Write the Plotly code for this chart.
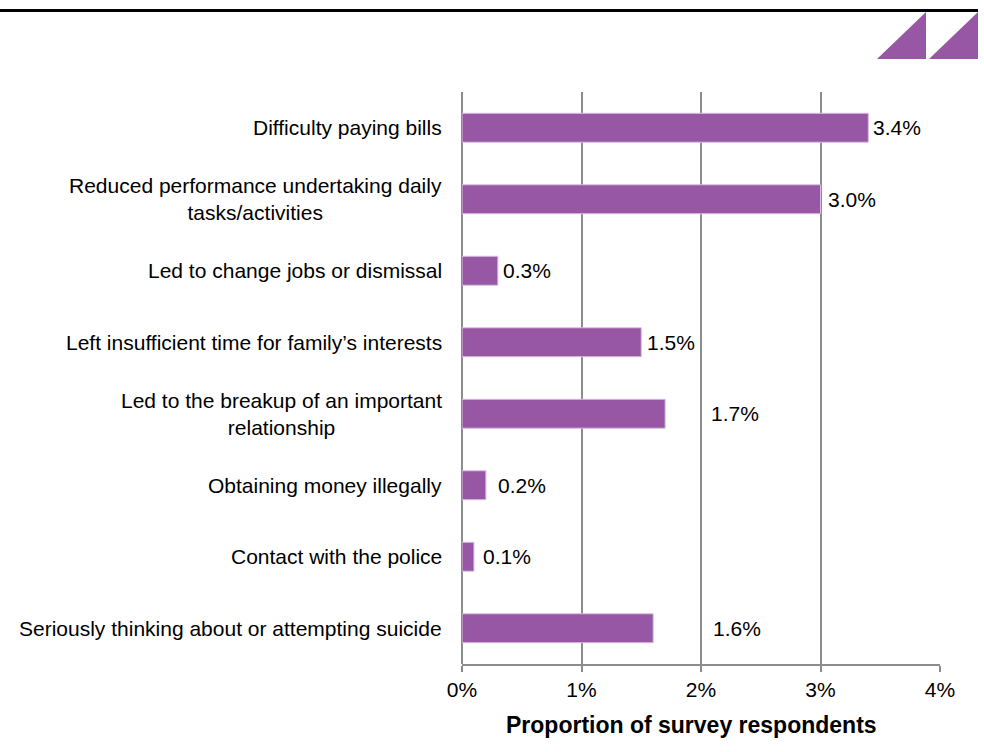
import plotly.graph_objects as go

# Harms reported by survey respondents (share of all respondents, %)
categories = [
    "Difficulty paying bills",
    "Reduced performance undertaking daily<br>tasks/activities",
    "Led to change jobs or dismissal",
    "Left insufficient time for family\u2019s interests",
    "Led to the breakup of an important<br>relationship",
    "Obtaining money illegally",
    "Contact with the police",
    "Seriously thinking about or attempting suicide",
]
values = [3.4, 3.0, 0.3, 1.5, 1.7, 0.2, 0.1, 1.6]
value_labels = ["3.4%", "3.0%", "0.3%", "1.5%", "1.7%", "0.2%", "0.1%", "1.6%"]
# horizontal nudge (px) of each value label from the end of its bar
label_shift = [3, 5, 3, 4, 44, 10, 7, 58]

x_ticks = [0, 1, 2, 3, 4]
x_tick_text = ["0%", "1%", "2%", "3%", "4%"]

PURPLE = "#9757a4"
GRID = "#8c8c8c"
FONT = "Liberation Sans, Arial, sans-serif"

fig = go.Figure(
    go.Bar(
        x=values,
        y=categories,
        orientation="h",
        marker=dict(color=PURPLE, line=dict(color="#d9bfe0", width=1)),
        hoverinfo="skip",
    )
)

annotations = []
# category labels, centred line by line and right-aligned to the axis
for cat in categories:
    annotations.append(dict(
        x=0, xref="paper", y=cat, yref="y",
        text=cat, showarrow=False, xanchor="right", yanchor="middle",
        align="center", xshift=-18,
        font=dict(family=FONT, size=21, color="#000000"),
    ))
# value labels
for cat, v, t, s in zip(categories, values, value_labels, label_shift):
    annotations.append(dict(
        x=v, xref="x", y=cat, yref="y",
        text=t, showarrow=False, xanchor="left", yanchor="middle",
        xshift=s, font=dict(family=FONT, size=21, color="#000000"),
    ))
# axis title
annotations.append(dict(
    x=0.48, xref="paper", y=725, yref="paper",
    text="<b>Proportion of survey respondents</b>", showarrow=False,
    xanchor="center", yanchor="middle",
    font=dict(family=FONT, size=23, color="#000000"),
))

fig.update_layout(
    width=984, height=752,
    margin=dict(l=462, r=44, t=92, b=88),
    paper_bgcolor="white", plot_bgcolor="white",
    showlegend=False,
    bargap=0.595,
    font=dict(family=FONT, size=21, color="#000000"),
    xaxis=dict(
        range=[0, 4], tickvals=x_ticks, ticktext=x_tick_text,
        showgrid=True, gridcolor=GRID, gridwidth=1.5,
        zeroline=True, zerolinecolor=GRID, zerolinewidth=1.5,
        showline=True, linecolor=GRID, linewidth=1.5,
        ticks="outside", ticklen=6, tickwidth=1.5, tickcolor=GRID,
        tickfont=dict(family=FONT, size=21, color="#000000"),
        fixedrange=True,
    ),
    yaxis=dict(
        autorange="reversed", showticklabels=False, showgrid=False,
        zeroline=False, showline=False, ticks="", fixedrange=True,
    ),
    annotations=annotations,
    shapes=[
        # rule along the top of the page
        dict(type="line", xref="paper", yref="paper", x0=-462 / 478, x1=1.0,
             y0=1, y1=1, line=dict(color="black", width=3), layer="above"),
        # logo triangles
        dict(type="path", xref="paper", yref="paper",
             path="M 877 59 L 926 59 L 926 12 Z", fillcolor=PURPLE,
             line=dict(width=0)),
        dict(type="path", xref="paper", yref="paper",
             path="M 929 59 L 978 59 L 978 12 Z", fillcolor=PURPLE,
             line=dict(width=0)),
    ],
)

# the title annotation and the page decorations above are placed in pixel
# coordinates; convert them into paper fractions of the plot area
L, R, T, B, W, H = 462, 44, 92, 88, 984, 752
pw, ph = W - L - R, H - T - B


def px_x(x):
    return (x - L) / pw


def px_y(y):
    return (H - B - y) / ph


fig.layout.annotations[-1].y = px_y(725)
fig.layout.annotations[-1].x = px_x(691)
fig.layout.shapes[0].update(x0=px_x(0), x1=px_x(978), y0=px_y(10.5), y1=px_y(10.5))
for shp, pts in zip(fig.layout.shapes[1:],
                    [[(877, 59), (926, 59), (926, 12)],
                     [(929, 59), (978, 59), (978, 12)]]):
    p = " L ".join(f"{px_x(a):.5f} {px_y(b):.5f}" for a, b in pts)
    shp.path = f"M {p} Z"

fig.write_html("out.html")
